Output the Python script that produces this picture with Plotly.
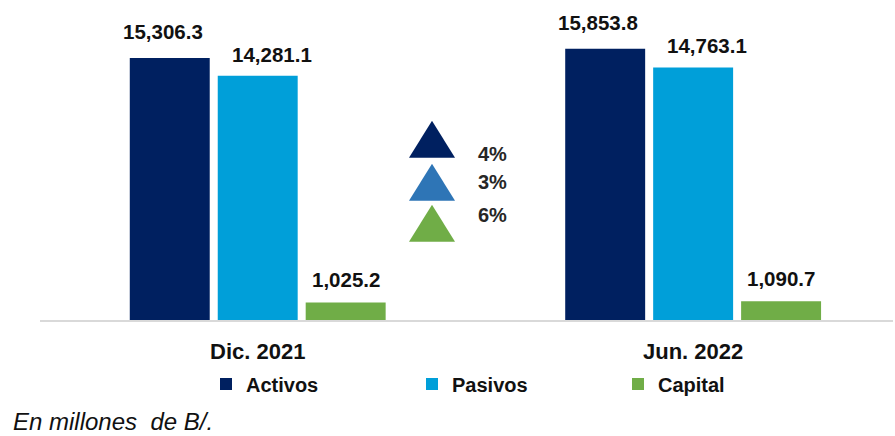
import plotly.graph_objects as go

# ---- data ----
categories = ["Dic. 2021", "Jun. 2022"]
series_names = ["Activos", "Pasivos", "Capital"]
activos = [15306.3, 15853.8]
pasivos = [14281.1, 14763.1]
capital = [1025.2, 1090.7]
footnote = "En millones  de B/."

# ---- style ----
W, H = 895, 436
ML, MR, MT, MB = 40, 2, 20, 115.5
PW, PH = W - ML - MR, H - MT - MB
bar_colors = ["#002060", "#009FD9", "#70AD47"]
tri_colors = ["#002060", "#2E75B6", "#70AD47"]
FONT = "Liberation Sans, Arial, sans-serif"


def px_x(px):
    return (px - ML) / PW


def px_y(py):
    return 1 - (py - MT) / PH


fig = go.Figure()
all_series = [activos, pasivos, capital]
for name, vals, col in zip(series_names, all_series, bar_colors):
    fig.add_trace(go.Bar(
        name=name, x=categories, y=vals, marker=dict(color=col, line=dict(width=0)),
        hoverinfo="skip",
    ))

# value labels above bars
slot = 0.202
label_xshift = [-7, 14, 0]
label_yshift = [13, 8, 9]
annotations = []
for j, vals in enumerate(all_series):
    for i, v in enumerate(vals):
        annotations.append(dict(
            x=i + (j - 1) * slot, y=v, xref="x", yref="y",
            text=f"<b>{v:,.1f}</b>", showarrow=False, yanchor="bottom",
            yshift=label_yshift[j], xshift=label_xshift[j],
            font=dict(family=FONT, size=20.5, color="#111111"),
        ))

# growth indicators (triangles + percentages)
growth = [round((s[1] / s[0] - 1) * 100) for s in all_series]
tri_tops = [121, 164, 205]
tri_h = 37
tri_cx, tri_hw = 432, 23
pct_y = [154, 182, 215]
shapes = []
for k, g in enumerate(growth):
    top = tri_tops[k]
    x0, x1, xc = px_x(tri_cx - tri_hw), px_x(tri_cx + tri_hw), px_x(tri_cx)
    yt, yb = px_y(top), px_y(top + tri_h)
    shapes.append(dict(
        type="path", xref="paper", yref="paper",
        path=f"M {x0} {yb} L {x1} {yb} L {xc} {yt} Z",
        fillcolor=tri_colors[k], line=dict(width=0),
    ))
    annotations.append(dict(
        x=px_x(476), y=px_y(pct_y[k]), xref="paper", yref="paper",
        text=f"<b>{g}%</b>", showarrow=False, xanchor="left", yanchor="middle",
        font=dict(family=FONT, size=20, color="#262626"),
    ))

annotations.append(dict(
    x=px_x(11), y=px_y(422), xref="paper", yref="paper",
    text=f"<i>{footnote}</i>", showarrow=False, xanchor="left", yanchor="middle",
    font=dict(family=FONT, size=24, color="#111111"),
))

fig.update_layout(
    width=W, height=H,
    margin=dict(l=ML, r=MR, t=MT, b=MB),
    paper_bgcolor="white", plot_bgcolor="white",
    barmode="group", bargap=0.394, bargroupgap=0.091,
    font=dict(family=FONT, color="#111111"),
    showlegend=True,
    legend=dict(
        orientation="h", x=px_x(206), y=px_y(365), xanchor="left", yanchor="top",
        font=dict(family=FONT, size=20, color="#111111", weight="bold"),
        entrywidth=161, entrywidthmode="pixels", itemwidth=30,
        bgcolor="rgba(0,0,0,0)", traceorder="normal",
    ),
    xaxis=dict(
        type="category", range=[-0.5, 1.459], showgrid=False, zeroline=False,
        showline=True, linecolor="#D9D9D9", linewidth=2, ticks="",
        tickfont=dict(family=FONT, size=22, color="#111111", weight="bold"),
        ticklabelstandoff=11,
    ),
    yaxis=dict(range=[0, 17532], visible=False, showgrid=False),
    shapes=shapes,
    annotations=annotations,
)

fig.write_html(
    "out.html",
    config={"displayModeBar": False},
    post_script="document.body.style.margin='0px';",
)
